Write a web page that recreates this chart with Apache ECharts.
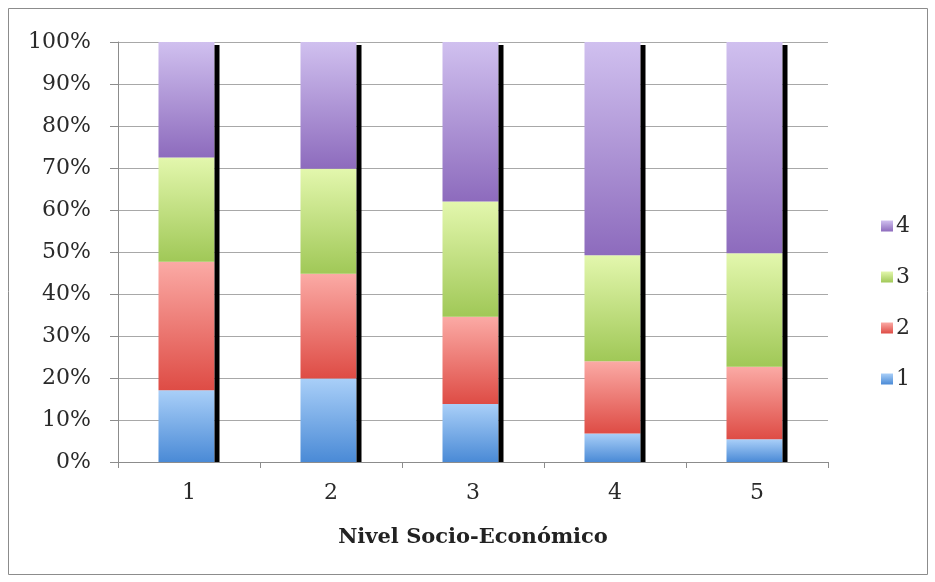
<!DOCTYPE html>
<html>
<head>
<meta charset="utf-8">
<script src="https://cdn.jsdelivr.net/npm/echarts@6/dist/echarts.min.js"></script>
<style>
  html, body { margin: 0; padding: 0; background: #fff; }
  #chart { width: 935px; height: 582px; }
</style>
</head>
<body>
<div id="chart"></div>
<script>
// niveles socio-economicos
const categories = ['1', '2', '3', '4', '5']
// porcentaje de cada segmento (abajo -> arriba)
const serie1 = [17.1, 19.9, 13.8, 6.8, 5.4]
const serie2 = [30.6, 24.9, 20.8, 17.2, 17.3]
const serie3 = [24.8, 25.0, 27.4, 25.2, 27.0]
const serie4 = [27.5, 30.2, 38.0, 50.8, 50.3]
const sombra = [99.3, 99.3, 99.3, 99.3, 99.3]
const yLabels = ['0%', '10%', '20%', '30%', '40%', '50%', '60%', '70%', '80%', '90%', '100%']

const font = 'DejaVu Serif'
const grad = (top, bottom) => ({
  type: 'linear', x: 0, y: 0, x2: 0, y2: 1,
  colorStops: [{ offset: 0, color: top }, { offset: 1, color: bottom }]
})

const seg = (name, data, top, bottom) => ({
  name,
  type: 'bar',
  stack: 'total',
  barWidth: 56,
  barGap: '0%',
  data,
  itemStyle: { color: grad(top, bottom) },
  emphasis: { disabled: true }
})

const chart = echarts.init(document.getElementById('chart'))
chart.setOption({
  animation: false,
  backgroundColor: '#fff',
  graphic: [{
    type: 'rect',
    shape: { x: 8.5, y: 8.5, width: 919, height: 566 },
    style: { fill: null, stroke: '#8c8c8c', lineWidth: 1 },
    silent: true
  }],
  grid: { left: 118, right: 107, top: 42, bottom: 120 },
  legend: {
    data: ['4', '3', '2', '1'],
    orient: 'vertical',
    left: 876,
    top: 210,
    itemGap: 29,
    itemWidth: 12,
    itemHeight: 11,
    icon: 'rect',
    textStyle: { fontFamily: font, fontSize: 22, color: '#2a2a2a', lineHeight: 22, padding: [0, 0, 0, -2] }
  },
  xAxis: {
    type: 'category',
    data: categories,
    name: 'Nivel Socio-Económico',
    nameLocation: 'middle',
    nameGap: 65,
    nameTextStyle: { fontFamily: font, fontSize: 21, fontWeight: 'bold', color: '#222' },
    axisLine: { lineStyle: { color: '#8c8c8c' } },
    axisTick: { show: true, length: 6, lineStyle: { color: '#8c8c8c' } },
    axisLabel: { fontFamily: font, fontSize: 22, color: '#2a2a2a', margin: 20 }
  },
  yAxis: {
    type: 'value',
    min: 0,
    max: 100,
    interval: 10,
    axisLine: { show: true, lineStyle: { color: '#8c8c8c' } },
    axisTick: { show: true, length: 8, lineStyle: { color: '#8c8c8c' } },
    splitLine: { lineStyle: { color: '#a8a8a8' } },
    axisLabel: {
      fontFamily: font, fontSize: 22, color: '#2a2a2a', margin: 27,
      formatter: v => yLabels[Math.round(v / 10)]
    }
  },
  series: [
    seg('1', serie1, '#a9cff8', '#4a8ad6'),
    seg('2', serie2, '#fbaaa5', '#de4c45'),
    seg('3', serie3, '#e3f7ad', '#a0c857'),
    seg('4', serie4, '#d0c0ef', '#8d6bbd'),
    {
      name: 'sombra',
      type: 'bar',
      barWidth: 5,
      barGap: '0%',
      data: sombra,
      itemStyle: { color: '#000' },
      emphasis: { disabled: true }
    }
  ]
})
</script>
</body>
</html>
